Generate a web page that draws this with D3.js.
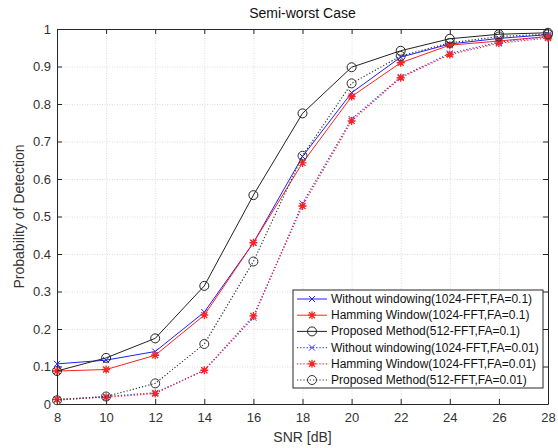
<!DOCTYPE html>
<html>
<head>
<meta charset="utf-8">
<script src="https://cdn.jsdelivr.net/npm/d3@7"></script>
<style>
  body { margin: 0; background: #fff; }
  svg { font-family: "Liberation Sans", Arial, sans-serif; }
</style>
</head>
<body>
<div id="chart"></div>
<script>
// SNR values (dB)
const snr = [8, 10, 12, 14, 16, 18, 20, 22, 24, 26, 28];

// detection probabilities
const noWin01   = [0.107, 0.117, 0.140, 0.245, 0.430, 0.660, 0.830, 0.925, 0.960, 0.975, 0.985];
const hamming01 = [0.088, 0.092, 0.130, 0.237, 0.430, 0.643, 0.820, 0.910, 0.957, 0.968, 0.980];
const proposed01 = [0.088, 0.123, 0.175, 0.315, 0.557, 0.775, 0.898, 0.942, 0.974, 0.986, 0.990];
const noWin001   = [0.012, 0.020, 0.030, 0.090, 0.230, 0.535, 0.760, 0.872, 0.935, 0.965, 0.980];
const hamming001 = [0.012, 0.018, 0.028, 0.090, 0.235, 0.528, 0.755, 0.870, 0.932, 0.962, 0.976];
const proposed001 = [0.010, 0.020, 0.055, 0.160, 0.380, 0.662, 0.855, 0.928, 0.963, 0.980, 0.986];

const xTicks = [8, 10, 12, 14, 16, 18, 20, 22, 24, 26, 28];
const yTicks = [0, 0.1, 0.2, 0.3, 0.4, 0.5, 0.6, 0.7, 0.8, 0.9, 1];

const series = [
  {name: "Without windowing(1024-FFT,FA=0.1)", values: noWin01, color: "#1f1fff", dash: null, marker: "x"},
  {name: "Hamming Window(1024-FFT,FA=0.1)", values: hamming01, color: "#ff2020", dash: null, marker: "star"},
  {name: "Proposed Method(512-FFT,FA=0.1)", values: proposed01, color: "#222", dash: null, marker: "circle"},
  {name: "Without windowing(1024-FFT,FA=0.01)", values: noWin001, color: "#3a3aff", dash: "1.2,2", marker: "x"},
  {name: "Hamming Window(1024-FFT,FA=0.01)", values: hamming001, color: "#ff2020", dash: "1.2,2", marker: "star"},
  {name: "Proposed Method(512-FFT,FA=0.01)", values: proposed001, color: "#333", dash: "1.2,2", marker: "circle"}
];

const width = 558, height = 448;
const margin = {top: 29, right: 10, bottom: 44, left: 57};

const svg = d3.select("#chart").append("svg")
  .attr("width", width)
  .attr("height", height);

const x = d3.scaleLinear().domain([8, 28]).range([margin.left, width - margin.right]);
const y = d3.scaleLinear().domain([0, 1]).range([height - margin.bottom, margin.top]);

// grid
const grid = svg.append("g").attr("stroke", "#dcdcdc").attr("stroke-width", 1).attr("stroke-dasharray", "1,1.5");
grid.selectAll(".gx").data(xTicks.slice(1, -1)).join("line")
  .attr("x1", d => x(d) + 0.5).attr("x2", d => x(d) + 0.5)
  .attr("y1", y(0)).attr("y2", y(1));
grid.selectAll(".gy").data(yTicks.slice(1, -1)).join("line")
  .attr("x1", x(8)).attr("x2", x(28))
  .attr("y1", d => y(d) + 0.5).attr("y2", d => y(d) + 0.5);

// axes (ticks inside like matlab)
const xAxis = svg.append("g")
  .attr("transform", `translate(0,${y(0)})`)
  .call(d3.axisBottom(x).tickValues(xTicks).tickSizeInner(-5).tickSizeOuter(0).tickPadding(9));
const xAxisTop = svg.append("g")
  .attr("transform", `translate(0,${y(1)})`)
  .call(d3.axisTop(x).tickValues(xTicks).tickSizeInner(-5).tickSizeOuter(0).tickFormat(""));
const yAxis = svg.append("g")
  .attr("transform", `translate(${x(8)},0)`)
  .call(d3.axisLeft(y).tickValues(yTicks).tickSizeInner(-5).tickSizeOuter(0).tickPadding(6).tickFormat(d3.format("~g")));
const yAxisRight = svg.append("g")
  .attr("transform", `translate(${x(28)},0)`)
  .call(d3.axisRight(y).tickValues(yTicks).tickSizeInner(-5).tickSizeOuter(0).tickFormat(""));

[xAxis, xAxisTop, yAxis, yAxisRight].forEach(g => {
  g.select(".domain").attr("stroke", "#262626");
  g.selectAll(".tick line").attr("stroke", "#262626");
  g.selectAll("text").attr("fill", "#333").style("font-size", "13px").style("font-family", "Liberation Sans, Arial, sans-serif");
});

// line + markers
const line = d3.line().x((d, i) => x(snr[i])).y(d => y(d));

function drawMarker(g, type, color, cx, cy) {
  if (type === "x") {
    const s = 3;
    g.append("path")
      .attr("d", `M${cx - s},${cy - s}L${cx + s},${cy + s}M${cx - s},${cy + s}L${cx + s},${cy - s}`)
      .attr("stroke", color).attr("stroke-width", 1).attr("fill", "none");
  } else if (type === "star") {
    const s = 4;
    g.append("path")
      .attr("d", `M${cx - s},${cy}L${cx + s},${cy}M${cx},${cy - s}L${cx},${cy + s}` +
        `M${cx - s * 0.75},${cy - s * 0.75}L${cx + s * 0.75},${cy + s * 0.75}M${cx - s * 0.75},${cy + s * 0.75}L${cx + s * 0.75},${cy - s * 0.75}`)
      .attr("stroke", color).attr("stroke-width", 1.3).attr("fill", "none");
  } else {
    g.append("circle").attr("cx", cx).attr("cy", cy).attr("r", 4.5)
      .attr("stroke", color).attr("stroke-width", 1).attr("fill", "none");
  }
}

const plot = svg.append("g");
series.forEach(s => {
  plot.append("path")
    .datum(s.values)
    .attr("d", line)
    .attr("fill", "none")
    .attr("stroke", s.color)
    .attr("stroke-width", s.dash ? 1.2 : 1)
    .attr("stroke-dasharray", s.dash);
  const mg = plot.append("g");
  s.values.forEach((v, i) => drawMarker(mg, s.marker, s.color, x(snr[i]), y(v)));
});

// title and labels
svg.append("text")
  .attr("x", (x(8) + x(28)) / 2).attr("y", 18)
  .attr("text-anchor", "middle")
  .style("font-size", "14px").attr("fill", "#111")
  .text("Semi-worst Case");
svg.append("text")
  .attr("x", (x(8) + x(28)) / 2).attr("y", 442)
  .attr("text-anchor", "middle")
  .style("font-size", "14px").attr("fill", "#333")
  .text("SNR [dB]");
svg.append("text")
  .attr("transform", `translate(24,${(y(0) + y(1)) / 2}) rotate(-90)`)
  .attr("text-anchor", "middle")
  .style("font-size", "14px").attr("fill", "#333")
  .text("Probability of Detection");

// legend
const lg = svg.append("g").attr("transform", "translate(293,290)");
lg.append("rect").attr("width", 250).attr("height", 98)
  .attr("fill", "#fff").attr("stroke", "#262626").attr("stroke-width", 1);
series.forEach((s, i) => {
  const yy = 9 + i * 16.2;
  lg.append("line").attr("x1", 4).attr("x2", 34).attr("y1", yy).attr("y2", yy)
    .attr("stroke", s.color).attr("stroke-width", s.dash ? 1.2 : 1).attr("stroke-dasharray", s.dash);
  drawMarker(lg, s.marker, s.color, 19, yy);
  lg.append("text").attr("x", 38).attr("y", yy + 4)
    .style("font-size", "12px").attr("fill", "#111")
    .text(s.name);
});
</script>
</body>
</html>
